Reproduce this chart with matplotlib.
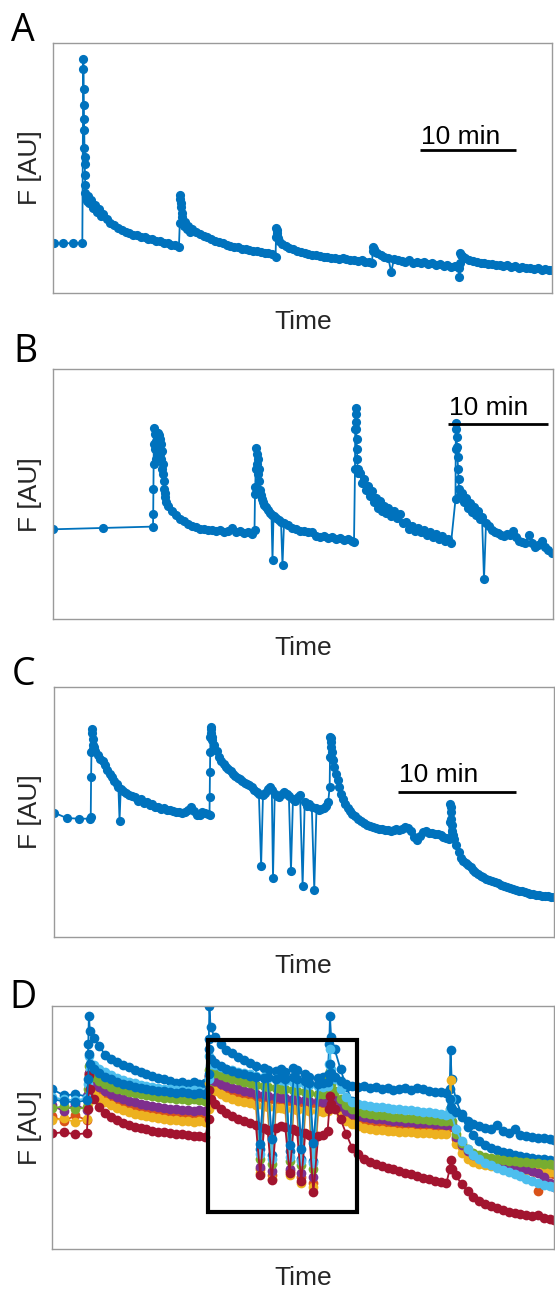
import numpy as np
import matplotlib
matplotlib.use("Agg")
import matplotlib.pyplot as plt
from matplotlib.patches import Rectangle

W, H = 555, 1291

# ---------------- data (time [min], F [AU]) ----------------
trace_A = [
    (0.05, 50), (1.0, 49.5), (2.05, 50), (3.05, 50),
    (3.15, 234), (3.17, 224), (3.19, 204), (3.21, 188), (3.23, 174), (3.25, 163), (3.27, 145),
    (3.29, 136), (3.31, 129), (3.33, 118), (3.35, 108), (3.37, 100), (3.4, 96),
    (3.5, 92), (3.6, 97), (3.8, 90), (4.0, 93), (4.2, 85), (4.4, 88), (4.6, 81), (4.8, 84),
    (5.0, 77), (5.2, 79), (5.6, 74), (6.0, 70), (6.4, 68),
    (6.8, 65), (7.2, 63), (7.6, 61), (8.0, 60), (8.4, 58), (8.8, 58), (9.2, 56), (9.6, 56),
    (10.0, 54), (10.4, 54), (10.8, 52), (11.2, 52), (11.6, 50), (12.0, 50), (12.4, 48),
    (12.8, 48), (13.2, 46),
    (13.29, 70), (13.32, 98), (13.36, 94), (13.4, 90), (13.45, 86), (13.5, 80), (13.55, 76), (13.6, 72),
    (13.7, 67), (13.8, 71), (14.0, 64), (14.2, 67), (14.4, 61), (14.6, 64), (15.0, 61), (15.4, 59),
    (15.8, 57), (16.2, 56), (16.6, 54),
    (17.0, 52), (17.4, 51), (17.8, 50), (18.2, 48), (18.6, 47), (19.0, 46), (19.4, 46), (19.8, 44),
    (20.2, 44), (20.6, 43), (21.0, 42), (21.4, 42), (21.8, 41), (22.2, 40), (22.6, 40), (23.0, 39),
    (23.35, 36),
    (23.4, 56), (23.43, 65), (23.47, 63), (23.5, 60), (23.55, 57), (23.6, 55), (23.7, 52),
    (24.0, 49), (24.4, 47), (24.8, 45), (25.2, 44), (25.6, 42), (26.0, 41), (26.4, 40), (26.8, 39),
    (27.2, 38), (27.6, 38), (28.0, 37), (28.4, 36), (28.8, 36), (29.2, 35), (29.6, 35), (30.0, 34),
    (30.4, 35), (30.8, 34), (31.2, 33), (31.6, 33), (32.0, 32), (32.4, 33), (32.8, 31), (33.2, 31),
    (33.5, 30),
    (33.55, 42), (33.6, 46), (33.65, 44), (33.7, 42), (33.8, 41),
    (34.0, 40), (34.4, 38), (34.8, 36), (35.2, 35), (35.5, 21), (35.8, 34), (36.2, 33), (36.6, 32),
    (37.0, 31), (37.4, 33), (37.8, 30), (38.2, 31), (38.6, 30), (39.0, 31), (39.4, 29), (39.8, 30),
    (40.2, 28), (40.6, 29), (41.0, 27), (41.4, 28), (41.8, 26), (42.2, 27), (42.6, 25),
    (42.68, 16), (42.72, 30), (42.76, 40), (42.8, 38), (42.9, 37), (43.0, 36),
    (43.3, 35), (43.7, 33), (44.1, 32), (44.5, 31), (44.9, 30), (45.3, 30), (45.7, 29), (46.1, 29),
    (46.5, 28), (46.9, 28), (47.3, 27), (47.7, 28), (48.1, 26), (48.5, 27), (48.9, 25), (49.3, 26),
    (49.7, 25), (50.1, 25), (50.5, 24), (50.9, 25), (51.3, 23), (51.7, 24), (52.1, 23), (52.4, 23),
]

trace_B = [
    (0.0, 90), (5.0, 91.3), (10.0, 92.7),
    (10.02, 105), (10.04, 130), (10.06, 155), (10.08, 175), (10.1, 191), (10.15, 185), (10.2, 170),
    (10.25, 160), (10.3, 178), (10.35, 186), (10.4, 182), (10.45, 186), (10.5, 175), (10.55, 184),
    (10.6, 170), (10.65, 180), (10.7, 165), (10.75, 175), (10.8, 160), (10.85, 168), (10.9, 150),
    (10.95, 155), (11.0, 145), (11.05, 138), (11.1, 130), (11.15, 126), (11.2, 122), (11.3, 117),
    (11.5, 113), (11.9, 108), (12.3, 104), (12.7, 100), (13.1, 98), (13.5, 95), (13.9, 93),
    (14.3, 92), (14.7, 90), (15.1, 90), (15.5, 89), (15.9, 89), (16.3, 88), (16.7, 89), (17.1, 87),
    (17.5, 88), (17.9, 91), (18.3, 87), (18.7, 88), (19.1, 86), (19.5, 87), (19.9, 85), (20.15, 89),
    (20.2, 125), (20.23, 132), (20.26, 150), (20.3, 171), (20.35, 165), (20.4, 155), (20.45, 160),
    (20.5, 145), (20.55, 150), (20.6, 138), (20.7, 129), (20.8, 124), (20.9, 120), (21.0, 117),
    (21.1, 114), (21.25, 112),
    (21.45, 109), (21.65, 106), (21.85, 104), (21.95, 59), (22.05, 103), (22.3, 101), (22.55, 99),
    (22.8, 97), (22.95, 54), (23.1, 96), (23.5, 94), (23.9, 91), (24.3, 90), (24.7, 88), (25.1, 88),
    (25.5, 87), (25.9, 87), (26.3, 83), (26.7, 82), (27.1, 83), (27.5, 81), (27.9, 82), (28.3, 80),
    (28.7, 81), (29.1, 79), (29.5, 80), (29.9, 78), (30.1, 77),
    (30.2, 150), (30.22, 190), (30.25, 211), (30.28, 205), (30.3, 197), (30.33, 190), (30.36, 180),
    (30.4, 170), (30.43, 160), (30.46, 150), (30.5, 146),
    (30.7, 146), (30.9, 136), (31.1, 140), (31.3, 129), (31.5, 133), (31.7, 123), (31.9, 128),
    (32.1, 117), (32.3, 121), (32.5, 111), (32.7, 118), (32.9, 108), (33.1, 113), (33.3, 106),
    (33.5, 111), (33.8, 103), (34.1, 108), (34.4, 101), (34.7, 105), (35.0, 96), (35.3, 97),
    (35.6, 90), (35.9, 93), (36.2, 88), (36.5, 91), (36.8, 87), (37.1, 89), (37.4, 84), (37.7, 87),
    (38.0, 82), (38.3, 85), (38.6, 80), (38.9, 83), (39.2, 78), (39.5, 80), (39.8, 76),
    (40.25, 120), (40.27, 170), (40.3, 196), (40.33, 190), (40.36, 182), (40.4, 172), (40.45, 162),
    (40.5, 150), (40.55, 140), (40.6, 130), (40.7, 124),
    (40.9, 126), (41.1, 117), (41.3, 121), (41.5, 111), (41.7, 116), (41.9, 107), (42.1, 112),
    (42.3, 104), (42.5, 108), (42.7, 100), (42.9, 102), (43.1, 40), (43.3, 96), (43.6, 93),
    (43.9, 89), (44.2, 87), (44.5, 86), (44.8, 84), (45.1, 83), (45.4, 85), (45.7, 84), (46.0, 88),
    (46.3, 82), (46.6, 78), (46.9, 77), (47.2, 76), (47.6, 84), (47.9, 76), (48.2, 72), (48.5, 74),
    (48.9, 78), (49.2, 72), (49.5, 69), (49.9, 66),
]

trace_C = [
    (0.0, 124), (1.04, 118.7), (2.07, 118), (3.06, 118),
    (3.1, 120), (3.13, 160), (3.16, 185), (3.19, 208), (3.22, 204), (3.25, 198), (3.28, 192),
    (3.32, 188), (3.4, 190), (3.5, 186),
    (3.7, 182), (3.9, 178), (4.1, 176), (4.3, 172), (4.5, 167), (4.7, 163), (4.9, 160), (5.1, 156),
    (5.3, 153), (5.45, 150), (5.55, 116), (5.65, 148), (5.85, 146), (6.1, 144), (6.35, 142),
    (6.6, 141), (6.85, 140), (7.1, 136), (7.35, 138), (7.6, 134), (7.85, 135), (8.1, 132),
    (8.35, 133), (8.6, 130), (8.85, 130), (9.1, 128), (9.35, 129), (9.6, 127), (9.85, 127),
    (10.1, 126), (10.35, 125), (10.6, 125), (10.85, 124), (11.1, 125), (11.35, 127), (11.6, 130),
    (11.85, 126), (12.1, 122), (12.35, 122), (12.6, 125), (12.85, 124), (13.1, 123),
    (13.2, 122), (13.22, 140), (13.24, 165), (13.26, 185), (13.28, 200), (13.3, 210), (13.33, 208),
    (13.36, 204), (13.4, 200), (13.44, 197),
    (13.6, 192), (13.8, 186), (14.0, 180), (14.2, 176), (14.4, 173), (14.6, 170), (14.8, 168),
    (15.0, 166), (15.2, 163), (15.4, 161), (15.6, 159), (15.8, 158), (16.0, 156), (16.2, 154),
    (16.4, 153), (16.6, 152), (16.8, 150), (17.0, 147), (17.2, 145), (17.4, 143), (17.59, 71),
    (17.75, 142), (17.95, 144), (18.15, 148), (18.35, 150), (18.5, 147), (18.6, 59), (18.75, 143),
    (18.95, 141), (19.15, 140), (19.35, 143), (19.55, 145), (19.75, 143), (19.95, 141), (20.13, 66),
    (20.3, 138), (20.5, 136), (20.7, 140), (20.9, 142), (21.12, 51), (21.3, 135), (21.5, 131),
    (21.7, 133), (21.9, 130), (22.11, 47), (22.3, 129), (22.5, 127), (22.7, 128), (22.9, 129),
    (23.1, 131), (23.3, 135),
    (23.42, 150), (23.45, 180), (23.48, 200), (23.51, 199), (23.54, 195), (23.57, 190), (23.6, 185),
    (23.64, 178), (23.67, 177),
    (23.8, 170), (23.95, 163), (24.1, 157), (24.25, 150), (24.4, 143), (24.55, 138), (24.75, 133),
    (24.95, 129), (25.15, 126), (25.35, 123), (25.6, 121), (25.85, 118), (26.1, 116), (26.35, 114),
    (26.6, 112), (26.85, 111), (27.1, 110), (27.35, 109), (27.6, 108), (27.85, 108), (28.1, 107),
    (28.35, 107), (28.6, 106), (28.85, 107), (29.1, 108), (29.35, 107), (29.6, 108), (29.85, 110),
    (30.1, 109), (30.35, 106), (30.6, 100), (30.85, 97), (31.1, 101), (31.35, 105), (31.6, 106),
    (31.85, 104), (32.1, 104), (32.35, 103), (32.6, 103), (32.85, 102), (33.1, 100), (33.35, 99),
    (33.55, 98),
    (33.65, 115), (33.68, 133), (33.71, 130), (33.74, 125), (33.77, 118), (33.8, 112), (33.85, 106),
    (33.9, 102), (34.0, 98),
    (34.2, 92), (34.4, 85), (34.6, 79), (34.8, 76), (35.0, 74), (35.2, 72), (35.4, 70), (35.6, 67),
    (35.8, 65), (36.0, 63), (36.25, 61), (36.5, 60), (36.75, 58), (37.0, 57), (37.25, 56),
    (37.5, 55), (37.75, 54), (38.0, 52), (38.25, 51), (38.5, 50), (38.75, 49), (39.0, 48),
    (39.25, 47), (39.5, 46), (39.75, 46), (40.0, 45), (40.25, 44), (40.5, 43), (40.75, 43),
    (41.0, 42), (41.25, 42), (41.5, 41), (41.75, 41), (42.0, 41), (42.25, 40), (42.5, 40),
]

# Panel D: shared sampling times, grouped (baseline, spike, decay, ...)
tD_groups = [
    [0, 0.96, 1.96, 2.92],
    [3.05, 3.1, 3.2],
    [3.5, 4.0, 4.5, 5.0, 5.5, 6.0, 6.5, 7.0, 7.5, 8.0, 8.5, 9.0, 9.5, 10.0, 10.5, 11.0, 11.5, 12.0, 12.5, 13.0],
    [13.3, 13.35, 13.45],
    [13.8, 14.3, 14.8, 15.3, 15.8, 16.3, 16.8, 17.3, 17.67, 18.0, 18.3, 18.66, 19.0, 19.4, 19.8,
     20.17, 20.5, 20.8, 21.16, 21.5, 21.85, 22.19, 22.6, 23.0, 23.4],
    [23.54, 23.6, 23.7],
    [24.0, 24.5, 25.0, 25.5, 26.0, 26.5, 27.0, 27.5, 28.0, 28.5, 29.0, 29.5, 30.0, 30.5, 31.0, 31.5, 32.0, 32.5, 33.0, 33.5],
    [33.78, 33.85, 33.95],
    [34.3, 34.8, 35.3, 35.8, 36.3, 36.8, 37.3, 37.8, 38.3, 38.8, 39.3, 39.8, 40.3, 40.8, 41.3, 41.8, 42.3, 42.65],
]

D_blue1 = [
    [160, 154, 155, 153], [205, 233, 218],
    [211, 203, 194, 190, 187, 184, 182, 179, 177, 175, 173, 171, 170, 168, 166, 167, 165, 167, 165, 166],
    [210, 243, 222],
    [212, 205, 199, 196, 192, 189, 186, 183, 100, 181, 179, 94, 178, 180, 177, 98, 181, 179, 90, 175, 172, 88, 171, 172, 174],
    [205, 233, 212],
    [200, 180, 162, 148, 140, 136, 134, 133, 131, 130, 130, 128, 128, 127, 126, 126, 124, 124, 123, 122],
    [160, 199, 170],
    [150, 135, 122, 114, 108, 104, 101, 99, 97, 96, 94, 93, 92, 91, 90, 90, 89, 88],
]
D_orange = [
    [133, 128, 134, 129], [150, 176, 165],
    [162, 157, 153, 149, 146, 143, 141, 139, 138, 137, 136, 135, 134, 133, 133, 132, 132, 131, 131, 130],
    [145, 173, 163],
    [165, 162, 160, 158, 156, 154, 153, 151, 80, 150, 149, 74, 148, 147, 147, 78, 146, 145, 72, 145, 144, 66, 144, 143, 144],
    [160, 170, 150],
    [145, 138, 133, 130, 128, 127, 126, 126, 125, 125, 124, 124, 123, 123, 123, 122, 122, 121, 121, 120],
    [128, 135, 122],
    [110, 102, 96, 92, 89, 87, 85, 84, 83, 82, 81, 80, 79, 78, 58, 70, 76, 75],
]
D_yellow = [
    [129, 131, 127, 130], [145, 174, 160],
    [156, 151, 147, 144, 141, 139, 137, 135, 134, 133, 132, 131, 130, 129, 129, 128, 128, 127, 128, 127],
    [140, 166, 157],
    [158, 155, 152, 150, 148, 147, 146, 144, 76, 143, 142, 70, 141, 141, 140, 74, 140, 139, 66, 139, 138, 62, 138, 137, 138],
    [155, 166, 148],
    [140, 133, 128, 125, 123, 121, 120, 119, 119, 118, 118, 117, 117, 117, 116, 116, 116, 115, 115, 115],
    [140, 169, 125],
    [105, 96, 90, 87, 85, 84, 83, 82, 81, 81, 80, 80, 79, 79, 78, 78, 77, 77],
]
D_purple = [
    [144, 138, 145, 139], [155, 176, 168],
    [166, 162, 158, 155, 152, 150, 148, 147, 145, 144, 143, 142, 141, 140, 140, 139, 139, 138, 139, 138],
    [150, 173, 168],
    [168, 165, 163, 161, 160, 158, 157, 155, 82, 154, 153, 78, 152, 151, 151, 80, 150, 149, 76, 149, 148, 72, 148, 147, 148],
    [160, 168, 156],
    [150, 143, 138, 135, 133, 132, 131, 130, 130, 129, 128, 128, 127, 127, 126, 126, 126, 125, 125, 124],
    [130, 135, 124],
    [112, 104, 98, 94, 91, 89, 88, 86, 85, 84, 83, 82, 80, 78, 76, 72, 66, 62],
]
D_green = [
    [141, 143, 140, 142], [160, 183, 172],
    [172, 168, 165, 162, 160, 159, 157, 156, 155, 154, 153, 152, 151, 151, 150, 150, 149, 150, 149, 148],
    [160, 179, 175],
    [176, 174, 172, 170, 169, 167, 166, 164, 90, 163, 162, 85, 161, 160, 160, 88, 159, 158, 84, 157, 156, 80, 155, 155, 156],
    [170, 178, 165],
    [158, 150, 144, 140, 138, 136, 135, 134, 134, 133, 132, 132, 131, 131, 130, 130, 129, 129, 128, 128],
    [135, 140, 128],
    [115, 106, 100, 96, 94, 92, 91, 90, 89, 88, 88, 87, 87, 86, 86, 85, 85, 84],
]
D_lightblue = [
    [152, 150, 149, 151], [165, 193, 180],
    [184, 180, 177, 174, 171, 169, 167, 166, 164, 163, 162, 161, 160, 160, 159, 159, 158, 159, 158, 157],
    [170, 193, 185],
    [184, 182, 180, 179, 177, 176, 175, 173, 95, 172, 171, 90, 170, 169, 168, 92, 167, 166, 88, 165, 164, 86, 163, 162, 163],
    [185, 200, 180],
    [170, 160, 152, 147, 145, 144, 143, 142, 142, 141, 140, 140, 139, 139, 138, 137, 137, 136, 135, 134],
    [140, 150, 135],
    [120, 108, 100, 94, 90, 86, 84, 81, 79, 77, 75, 73, 70, 68, 66, 64, 63, 62],
]
D_darkred = [
    [116, 117, 115, 116], [140, 174, 160],
    [150, 142, 136, 132, 129, 126, 124, 122, 121, 120, 118, 117, 117, 116, 115, 115, 114, 113, 113, 112],
    [130, 159, 150],
    [145, 140, 136, 133, 130, 128, 126, 124, 74, 121, 119, 69, 121, 123, 122, 76, 120, 118, 68, 116, 114, 57, 113, 114, 118],
    [140, 153, 145],
    [140, 130, 115, 101, 95, 90, 87, 85, 83, 81, 80, 78, 76, 75, 73, 71, 70, 68, 67, 66],
    [80, 89, 80],
    [74, 65, 58, 52, 48, 45, 43, 41, 39, 37, 36, 35, 34, 33, 34, 31, 30, 29],
]
D_blue2 = [
    [150, 148, 147, 149], [170, 195, 185],
    [180, 176, 172, 170, 167, 165, 164, 162, 161, 160, 159, 158, 158, 157, 156, 157, 156, 155, 156, 155],
    [175, 200, 190],
    [186, 183, 180, 178, 176, 175, 173, 172, 105, 171, 172, 110, 170, 172, 170, 104, 172, 170, 100, 168, 166, 106, 165, 166, 167],
    [175, 185, 176],
    [172, 168, 165, 163, 162, 163, 161, 162, 160, 161, 159, 160, 161, 159, 161, 160, 158, 157, 157, 156],
    [150, 142, 140],
    [137, 132, 128, 125, 123, 121, 120, 124, 118, 116, 120, 114, 113, 112, 111, 111, 110, 109],
]

D_traces = [D_blue1, D_orange, D_yellow, D_purple, D_green, D_lightblue, D_darkred, D_blue2]
D_colors = ["#0072BD", "#D95319", "#EDB120", "#7E2F8E", "#77AC30", "#4DBEEE", "#A2142F", "#0072BD"]

# ---------------- figure ----------------
fig = plt.figure(figsize=(W / 100, H / 100), dpi=100)
BLUE = "#0072BD"
LABEL_FONT = ["Liberation Sans", "DejaVu Sans"]
LETTER_FONT = ["Open Sans", "DejaVu Sans"]


def add_panel(left, top, right, bottom):
    ax = fig.add_axes([left / W, 1 - bottom / H, (right - left) / W, (bottom - top) / H])
    ax.set_xticks([])
    ax.set_yticks([])
    for s in ax.spines.values():
        s.set_color("#9a9a9a")
        s.set_linewidth(1.0)
    return ax


def draw(ax, t, f, color, ms=6.6):
    ax.plot(t, f, "-", color=color, lw=1.3, marker="o", ms=ms, mfc=color, mec=color, mew=0)


def labels(ax_top, ax_bot, time_base, letter, letter_xy):
    fig.text(303 / W, 1 - time_base / H, "Time", ha="center", va="baseline",
             fontsize=19, color="#262626", family=LABEL_FONT)
    fig.text(30 / W, 1 - (ax_top + ax_bot) / 2 / H, "F [AU]", ha="center", va="center",
             rotation=90, fontsize=19, color="#262626", family=LABEL_FONT)
    fig.text(letter_xy[0] / W, 1 - letter_xy[1] / H, letter, ha="left", va="baseline",
             fontsize=27, color="black", family=LETTER_FONT)


def scalebar(ax, t0, fy, ty):
    ax.plot([t0, t0 + 10], [fy, fy], color="black", lw=2.0, solid_capstyle="butt", clip_on=False)
    ax.text(t0 + 0.1, ty, "10 min", ha="left", va="baseline", fontsize=19, color="black",
            family=LABEL_FONT)


# Panel A
axA = add_panel(53.3, 42.7, 552, 293)
tA, fA = np.array(trace_A).T
draw(axA, tA, fA, BLUE)
axA.set_xlim(0, 52.4)
axA.set_ylim(0, 250.3)
scalebar(axA, 38.57, 143, 149)
labels(42.7, 293, 329, "A", (11, 40.7))

# Panel B
axB = add_panel(53, 369, 553, 619.3)
tB, fB = np.array(trace_B).T
draw(axB, tB, fB, BLUE)
axB.set_xlim(0, 50)
axB.set_ylim(0, 250.3)
scalebar(axB, 39.48, 195.3, 204.3)
labels(369, 619.3, 655, "B", (13, 362))

# Panel C
axC = add_panel(54.3, 686.7, 554, 936.7)
tC, fC = np.array(trace_C).T
draw(axC, tC, fC, BLUE)
axC.set_xlim(0, 42.5)
axC.set_ylim(0, 250)
scalebar(axC, 29.24, 145, 155)
labels(686.7, 936.7, 973.3, "C", (12, 685))

# Panel D
axD = add_panel(52.4, 1005.7, 554, 1249.3)
tD = np.concatenate([np.array(g, float) for g in tD_groups])
for tr, col in zip(D_traces, D_colors):
    for g_t, g_f in zip(tD_groups, tr):
        assert len(g_t) == len(g_f), (len(g_t), len(g_f))
    fD = np.concatenate([np.array(g, float) for g in tr])
    draw(axD, tD, fD, col, ms=7.0)
axD.set_xlim(0, 42.65)
axD.set_ylim(0, 243.6)
axD.add_patch(Rectangle((13.26, 37.6), 25.88 - 13.26, 209.3 - 37.6, fill=False,
                        lw=3.0, ec="black", zorder=10))
labels(1005.7, 1249.3, 1285, "D", (9, 1008))

fig.savefig("out.png", dpi=100)
